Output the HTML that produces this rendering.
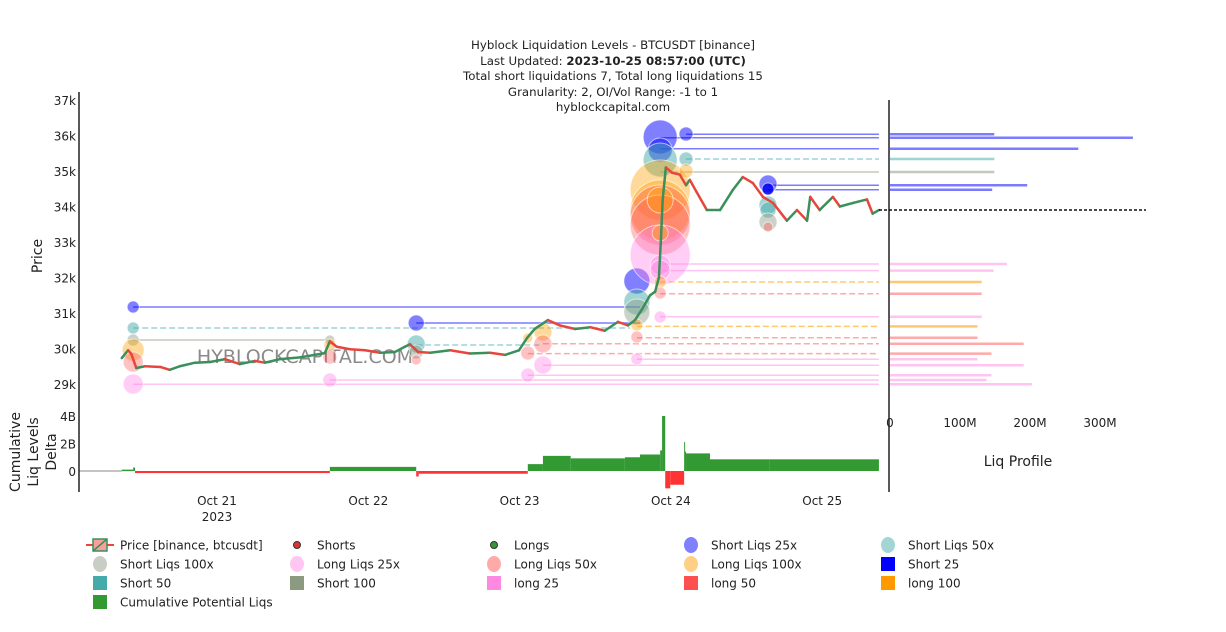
<!DOCTYPE html>
<html><head><meta charset="utf-8"><style>
body{margin:0;background:#fff;font-family:"DejaVu Sans","Liberation Sans",sans-serif}
svg text{font-family:"DejaVu Sans","Liberation Sans",sans-serif;fill:#222}
</style></head><body>
<svg id="chart" width="1226" height="628" viewBox="0 0 1226 628" xmlns="http://www.w3.org/2000/svg">
<g font-size="11.8" text-anchor="middle">
<text x="613" y="49">Hyblock Liquidation Levels - BTCUSDT [binance]</text>
<text x="613" y="65">Last Updated: <tspan font-weight="bold">2023-10-25 08:57:00 (UTC)</tspan></text>
<text x="613" y="80">Total short liquidations 7, Total long liquidations 15</text>
<text x="613" y="96">Granularity: 2, OI/Vol Range: -1 to 1</text>
<text x="613" y="111">hyblockcapital.com</text>
</g>
<text x="305" y="363" font-size="19" text-anchor="middle" style="fill:#8a8a8a">HYBLOCKCAPITAL.COM</text>
<g id="lines"></g><g id="bubbles"></g><g id="price"></g><g id="delta"></g><g id="profile"></g>
<g id="axes"></g>
<g id="legend"></g>
</svg>
<script>
const NS='http://www.w3.org/2000/svg';
// price series (hours since Oct 21 00:00 UTC, price)
const priceH=[-15.1,-14.1,-13.6,-12.8,-11.4,-9.0,-7.5,-5.9,-3.5,-1.1,1.3,3.6,6.0,7.6,10.0,13.2,15.5,17.1,17.9,19.0,21.1,23.5,25.9,28.2,29.8,30.6,31.9,33.8,37.0,40.1,43.3,45.7,47.9,49.2,50.4,52.5,54.4,56.8,59.2,61.5,63.6,65.2,66.3,67.4,68.7,69.5,70.1,70.4,70.7,71.2,72.2,73.4,74.4,75.0,76.1,77.7,79.8,81.8,83.4,85.0,86.6,88.2,90.4,92.0,93.6,94.1,95.6,97.7,98.8,100.9,103.1,104.0,105.0];
const priceV=[29730,29950,29850,29450,29500,29480,29400,29500,29600,29620,29700,29560,29650,29600,29700,29750,29820,29870,30200,30050,29980,29950,29880,29900,30050,30120,29900,29880,29950,29860,29880,29820,29950,30300,30550,30800,30650,30550,30600,30500,30750,30650,30800,31100,31500,31600,32000,33000,34200,35100,34950,34900,34600,34750,34400,33900,33900,34460,34830,34660,34270,34100,33600,33900,33600,34270,33900,34270,34000,34100,34200,33800,33900];
// liquidation level lines
const linePrice=[36034,35938,35628,35338,34972,34597,34473,32380,32192,31873,31544,30896,30625,30304,30135,29854,29696,29527,29245,29113,28992,31169,30577,30239,30718,30099];
const lineStart=[74.4,70.3,70.3,74.4,70.3,87.4,87.4,70.6,70.6,70.3,70.3,70.3,66.6,66.6,51.7,49.3,66.6,51.7,49.3,17.9,-13.3,-13.3,-13.3,-13.3,31.6,31.6];
const lineEnd=[105,105,105,105,105,105,105,105,105,105,105,105,105,105,105,105,105,105,105,105,105,67.1,65.5,17.9,67.1,51.2];
const lineType=['s25','s25','s25','s50','s100','s25','s25','l25','l25','l100','l50','l25','l100','l50','l50','l50','l25','l25','l25','l25','l25','s25','s50','s100','s25','s50'];
const profileVal=[149,347,269,149,149,196,146,167,148,131,131,131,125,125,191,145,125,191,145,138,203,0,0,0,0,0];
// bubbles
const bubH=[-13.3,-13.3,-13.3,-13.3,-13.3,-13.3,17.9,17.9,17.9,17.9,31.6,31.6,31.6,31.6,49.3,49.3,49.3,51.7,51.7,51.7,66.6,66.6,66.6,66.6,66.6,66.6,70.3,70.3,70.3,70.3,70.3,70.3,70.3,70.3,70.3,70.3,70.3,70.3,70.3,70.3,70.3,74.4,74.4,74.4,87.4,87.4,87.4,87.4,87.4,87.4];
const bubP=[31169,30577,30239,29958,29620,29000,30239,30099,29760,29113,30718,30127,29901,29676,30296,29873,29253,30465,30127,29535,31901,31310,31028,30662,30324,29704,35958,35592,35310,34465,33901,33760,33479,32634,32352,32211,31873,31563,30887,33254,34183,36042,35338,35000,34634,34493,34042,33901,33563,33422];
const bubSize=[6,6,6,11,10,10,5,6,7,7,8,9,7,5,5,7,7,9,9,9,13,13,13,6,6,6,17,12,17,30,30,30,30,30,10,10,6,6,6,8,13,7,7,7,9,6,9,8,9,5];
const bubType=['s25','s50','s100','l100','l50','l25','s100','l100','l50','l25','s25','s50','s100','l50','l100','l50','l25','l100','l50','l25','s25','s50','s100','l100','l50','l25','s25','s25','s50','l100','l100','l50','l50','l25','l25','l25','l100','l50','l25','l100','l100','s25','s50','l100','s25','S25','s50','s50','s100','l50'];
// cumulative delta (step series, billions)
const deltaH=[-15.1,-13.3,-13.0,17.9,31.6,32.0,49.3,51.7,56.1,64.7,67.1,70.3,70.6,71.1,71.9,74.1,74.2,74.4,78.2,87.7,105];
const deltaV=[0.1,0.25,-0.15,0.3,-0.4,-0.2,0.5,1.1,0.92,1.0,1.2,1.5,4.0,-1.26,-1.0,2.1,1.4,1.28,0.85,0.85,0];
const dateTicks=['Oct 21','Oct 22','Oct 23','Oct 24','Oct 25'];
const dateTickH=[0,24,48,72,96];
const priceTicks=[29000,30000,31000,32000,33000,34000,35000,36000,37000];
const deltaTicks=[0,2,4];
const profTicks=[0,100,200,300];
const currentPrice=33900;

const xH=h=>217+h*151.3/24, yP=p=>100+(37000-p)*0.0355, yD=v=>471-v*13.75, xM=m=>890+m*0.7;
const fillC={s25:'rgba(0,0,255,0.5)',S25:'rgba(0,0,240,0.85)',s50:'rgba(70,170,170,0.5)',s100:'rgba(140,155,130,0.45)',l25:'rgba(255,130,230,0.4)',l50:'rgba(255,80,80,0.35)',l100:'rgba(255,160,0,0.4)'};
const lineC={s25:'#7b7bff',s50:'#9fd4d4',s100:'#c4c8be',l25:'#ffc4f2',l50:'#ffaaaa',l100:'#ffc870'};
function mk(tag,at,parent){const e=document.createElementNS(NS,tag);for(const k in at)e.setAttribute(k,at[k]);parent.appendChild(e);return e;}
const gL=document.getElementById('lines'),gB=document.getElementById('bubbles'),gP=document.getElementById('price'),gD=document.getElementById('delta'),gR=document.getElementById('profile'),gA=document.getElementById('axes'),gG=document.getElementById('legend');
linePrice.forEach((p,i)=>{
 const t=lineType[i];const dash=(t==='l50'||t==='l100'||t==='s50')?'6,3':'none';
 const l=mk('line',{x1:xH(lineStart[i]),x2:Math.min(879,xH(lineEnd[i])),y1:yP(p),y2:yP(p),stroke:lineC[t],'stroke-width':1.5,'stroke-dasharray':dash},gL);
 
 
 if(profileVal[i]>0){const r=mk('line',{x1:890,x2:xM(profileVal[i]),y1:yP(p),y2:yP(p),stroke:lineC[t],'stroke-width':2.5},gR);
 
 }
});
bubH.forEach((h,i)=>{
 const c=mk('circle',{cx:xH(h),cy:yP(bubP[i]),r:bubSize[i],fill:fillC[bubType[i]],stroke:'rgba(255,255,255,0.6)','stroke-width':1},gB);
 
 
});
for(let i=1;i<priceH.length;i++){
 const s=mk('line',{x1:xH(priceH[i-1]),y1:yP(priceV[i-1]),x2:xH(priceH[i]),y2:yP(priceV[i]),stroke:priceV[i]>=priceV[i-1]?'#3a8f5a':'#e8453c','stroke-width':2.5,'stroke-linecap':'round'},gP);
 
 
}
for(let i=0;i<deltaH.length-1;i++){
 const v=deltaV[i],y0=yD(0),y1=yD(v);
 const r=mk('rect',{x:xH(deltaH[i]),width:Math.max(1,xH(deltaH[i+1])-xH(deltaH[i])),y:Math.min(y0,y1),height:Math.max(1.5,Math.abs(y1-y0)),fill:v>=0?'#339933':'#ff3333'},gD);
 
 
}
mk('line',{x1:79,x2:122,y1:471,y2:471,stroke:'#888','stroke-width':1},gA);
mk('line',{x1:79,x2:79,y1:92,y2:492,stroke:'#222','stroke-width':1.5},gA);
mk('line',{x1:889,x2:889,y1:100,y2:492,stroke:'#222','stroke-width':1.5},gA);
mk('line',{x1:879,x2:1146,y1:yP(currentPrice),y2:yP(currentPrice),stroke:'#111','stroke-width':1.5,'stroke-dasharray':'3,2'},gA);
priceTicks.forEach(p=>{const t=mk('text',{x:76,y:yP(p)+5,'text-anchor':'end','font-size':12},gA);t.textContent=(p/1000)+'k';
 
 });
deltaTicks.forEach(v=>{const t=mk('text',{x:76,y:yD(v)+5,'text-anchor':'end','font-size':12},gA);t.textContent=v===0?'0':v+'B';
 
 });
dateTicks.forEach((d,i)=>{const t=mk('text',{x:xH(dateTickH[i]),y:505,'text-anchor':'middle','font-size':12},gA);t.textContent=d;
 
 });
const yr=mk('text',{x:xH(0),y:521,'text-anchor':'middle','font-size':12},gA);yr.textContent='2023';
profTicks.forEach(m=>{const t=mk('text',{x:xM(m),y:427,'text-anchor':'middle','font-size':12},gA);t.textContent=m===0?'0':m+'M';
 
 });
const lp=mk('text',{x:1018,y:466,'text-anchor':'middle','font-size':14},gA);lp.textContent='Liq Profile';

const pt=mk('text',{transform:'translate(42,256) rotate(-90)','text-anchor':'middle','font-size':14},gA);pt.textContent='Price';

['Cumulative','Liq Levels','Delta'].forEach((s,i)=>{const t=mk('text',{transform:`translate(${20+i*18},452) rotate(-90)`,'text-anchor':'middle','font-size':14},gA);t.textContent=s;
 });
// legend
const legNames=['Price [binance, btcusdt]','Shorts','Longs','Short Liqs 25x','Short Liqs 50x','Short Liqs 100x','Long Liqs 25x','Long Liqs 50x','Long Liqs 100x','Short 25','Short 50','Short 100','long 25','long 50','long 100','Cumulative Potential Liqs'];
const legSym=['price','dotR','dotG','c:#8080ff','c:#a3d5d5','c:#c8cec4','c:#ffc6f2','c:#ffaaa8','c:#ffcf85','s:#0000ff','s:#45aaaa','s:#8c9a80','s:#ff88e0','s:#ff5050','s:#ff9900','s:#339933'];
legNames.forEach((n,i)=>{
 const col=i%5,row=Math.floor(i/5),x=100+col*197,y=545+row*19;
 const g=mk('g',{},gG);
 
 
 const s=legSym[i];
 if(s==='price'){mk('line',{x1:86,x2:114,y1:y,y2:y,stroke:'#e8453c','stroke-width':2},g);mk('rect',{x:93,y:y-6,width:14,height:12,fill:'#f5a09a',stroke:'#3a8f5a','stroke-width':1.5},g);mk('line',{x1:93,y1:y+6,x2:107,y2:y-6,stroke:'#3a8f5a','stroke-width':1.5},g);}
 else if(s==='dotR')mk('circle',{cx:x,cy:y,r:3.5,fill:'#d33',stroke:'#333'},g);
 else if(s==='dotG')mk('circle',{cx:x,cy:y,r:3.5,fill:'#393',stroke:'#333'},g);
 else if(s[0]==='c')mk('ellipse',{cx:x,cy:y,rx:7,ry:8,fill:s.slice(2)},g);
 else mk('rect',{x:x-7,y:y-7,width:14,height:14,fill:s.slice(2)},g);
 const t=mk('text',{x:x+20,y:y+4.5,'font-size':12},g);t.textContent=n;
});
</script>
</body></html>
